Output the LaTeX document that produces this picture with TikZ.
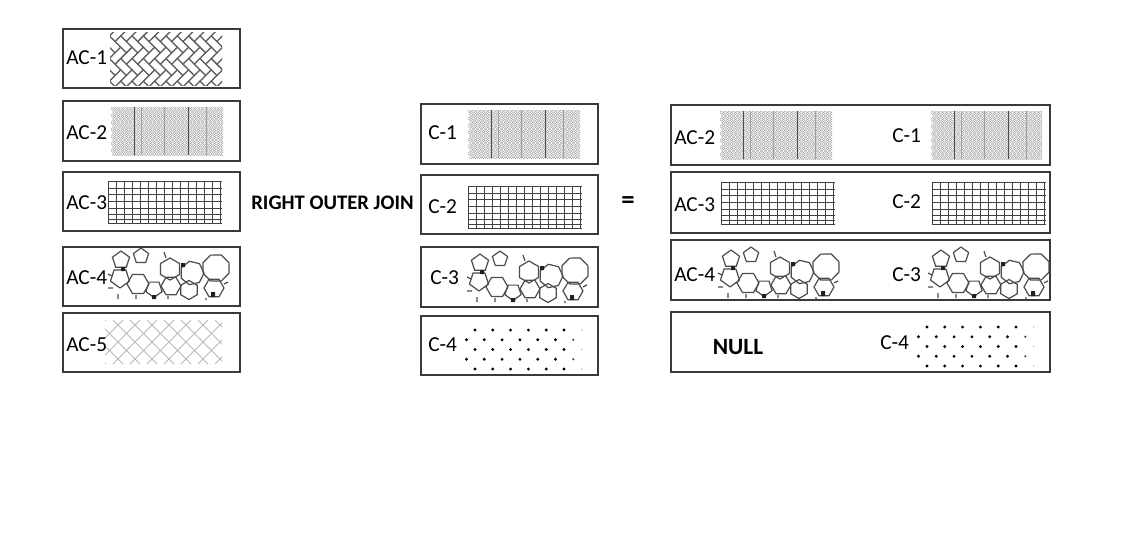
\documentclass[tikz,border=0pt]{standalone}
\usepackage{fontspec}
\setmainfont{Carlito}
\definecolor{boxc}{HTML}{3A3A3A}
\definecolor{patc}{HTML}{606060}
\tikzset{
  tbox/.style 2 args={draw=boxc, line width=1.1pt, inner sep=0pt, outer sep=0pt, anchor=north west, minimum width=#1*0.75pt, minimum height=#2*0.75pt},
  lab/.style={anchor=west, inner sep=0pt, font=\fontsize{16}{18}\selectfont, text=black},
  boldlab/.style={inner sep=0pt, font=\bfseries\fontsize{15.5}{18}\selectfont, text=black},
  hb/.style={draw=patc, line width=0.8pt},
  circ/.style={draw=gray!65, line width=0.45pt},
  gridl/.style={draw=gray!50!black, line width=0.55pt},
  foaml/.style={draw=gray!60!black, line width=0.9pt},
  crossl/.style={draw=gray!55, line width=0.7pt}
}
\newcommand{\PatHerring}[4]{%
 \begin{scope}[shift={(#1,#2)}]
  \clip (0,0) rectangle (#3,#4);
  \begin{scope}[shift={(#3/2,#4/2)}, rotate=45, scale=8]
   \foreach \k in {-10,...,10}{\foreach \m in {-5,...,5}{
     \draw[hb] ({\k+2*\m},{\k-2*\m}) rectangle ++(2,1);
     \draw[hb] ({\k+2*\m+2},{\k-2*\m-1}) rectangle ++(1,2);
   }}
  \end{scope}
 \end{scope}}
\newcommand{\PatCircles}[4]{%
 \begin{scope}[shift={(#1,#2)}]
  \clip (0,0) rectangle (#3,#4);
  \draw[circ] \foreach \i in {0,...,28}{\foreach \j in {0,...,14}{
    ({\i*4+2*mod(\j,2)+1.5},{\j*3.5+1.5}) circle[radius=1.7]}};
  \draw[gray!60!black, line width=0.7pt] (23,0) -- (23,#4) (77,0) -- (77,#4);
  \draw[gray!75, line width=0.5pt] (30,0) -- (30,#4) (53,0) -- (53,#4) (95,0) -- (95,#4);
 \end{scope}}
\newcommand{\PatGrid}[2]{%
 \begin{scope}[shift={(#1,#2)}]
  \draw[gridl] \foreach \x in {0,8,...,112}{(\x,0) -- (\x,42)};
  \draw[gridl] \foreach \y in {0,7,13,20,27,33,38,42}{(0,\y) -- (114,\y)};
 \end{scope}}
\newcommand{\PatFoam}[2]{%
 \begin{scope}[shift={(#1,#2)}]
  \foreach \cx/\cy/\r/\n/\ro in {13/8/9/5/-90, 12/26/10/5/90, 30/32/11/6/0, 46/37/8.5/5/90, 33/4/8/5/-90, 62/17/11/6/30, 63/34/10/6/0, 84/21/12/7/0, 81/38/9.5/6/30, 108/16/14/8/22, 106/36/10/6/0}{
    \draw[foaml] ({\cx+\r*cos(\ro)},{\cy+\r*sin(\ro)}) \foreach \t in {1,...,\n}{ -- ({\cx+\r*cos(\ro+\t*360/\n)},{\cy+\r*sin(\ro+\t*360/\n)})};
  }
  \fill[gray!25!black] (13,15) rectangle (17,19) (73,11) rectangle (77,15) (103,40) rectangle (107,45) (44,43) rectangle (48,47);
  \draw[foaml] (0,22) -- (4,24) (0,36) -- (5,36) (10,42) -- (10,47) (28,43) -- (28,47) (60,44) -- (60,47) (98,46) -- (98,48) (120,30) -- (116,32) (56,0) -- (58,6);
 \end{scope}}
\newcommand{\PatCross}[4]{%
 \begin{scope}[shift={(#1,#2)}]
  \clip (0,0) rectangle (#3,#4);
  \draw[crossl] \foreach \s in {-60,-43,...,130}{(\s,0) -- ++(#4,#4) (\s,#4) -- ++(#4,-#4)};
 \end{scope}}
\newcommand{\PatDots}[2]{%
 \begin{scope}[shift={(#1,#2)}]
  \foreach \j/\off in {0/0, 9.75/-8.5, 19.5/0, 29.25/-8.5, 39/0}{
   \foreach \i in {0,...,5}{\fill[black] ({\off+\i*17.8},\j) circle[radius=1.6];}
  }
  \foreach \j in {0,19.5,39}{\fill[gray!50] ({6*17.8},\j) circle[radius=0.9];}
  \foreach \j in {9.75,29.25}{\fill[gray!60!black] ({6*17.8-8.5},\j) circle[radius=1.2];}
 \end{scope}}
\begin{document}
\begin{tikzpicture}[x=0.75pt,y=-0.75pt]
\fill[white] (0,0) rectangle (1140,551);
\useasboundingbox (0,0) rectangle (1140,551);

% left column
\node[tbox={177}{59}] (ac1) at (63,29) {};
\node[tbox={177}{60}] (ac2) at (63,101) {};
\node[tbox={177}{59}] (ac3) at (63,172) {};
\node[tbox={177}{59}] (ac4) at (63,247) {};
\node[tbox={177}{59}] (ac5) at (63,313) {};
\PatHerring{110}{32}{112}{53}
\PatCircles{111}{107}{112}{48}
\PatGrid{108}{181}
\PatFoam{108}{252}
\PatCross{105}{320}{117}{44}
\node[lab] (ac1t) at (66,58) {AC-1};
\node[lab] (ac2t) at (66,133) {AC-2};
\node[lab] (ac3t) at (66,203) {AC-3};
\node[lab] (ac4t) at (66,278) {AC-4};
\node[lab] (ac5t) at (66,345) {AC-5};

% operator
\node[boldlab] (join) at (332.5,203) {RIGHT OUTER JOIN};
\node[boldlab, font=\bfseries\fontsize{20}{22}\selectfont] (eq) at (628,203) {=};

% middle column
\node[tbox={177}{60}] (c1) at (421,104) {};
\node[tbox={177}{59}] (c2) at (421,175) {};
\node[tbox={177}{60}] (c3) at (421,247) {};
\node[tbox={177}{59}] (c4) at (421,316) {};
\PatCircles{468}{110}{112}{48}
\PatGrid{468}{186}
\PatFoam{467}{255}
\PatDots{475}{330}
\node[lab] (c1t) at (428,133) {C-1};
\node[lab] (c2t) at (428,207) {C-2};
\node[lab] (c3t) at (430,278) {C-3};
\node[lab] (c4t) at (428,345) {C-4};

% result column
\node[tbox={379}{60}] (r1) at (671,105) {};
\node[tbox={379}{61}] (r2) at (671,172) {};
\node[tbox={379}{60}] (r3) at (671,240) {};
\node[tbox={379}{60}] (r4) at (671,312) {};
\PatCircles{720}{111}{112}{48}
\PatCircles{931}{111}{111}{48}
\PatGrid{721}{182}
\PatGrid{932}{182}
\PatFoam{718}{251}
\PatFoam{928}{251}
\PatDots{927}{327}
\node[lab] (r1a) at (674,138) {AC-2};
\node[lab] (r1c) at (892,136) {C-1};
\node[lab] (r2a) at (674,205) {AC-3};
\node[lab] (r2c) at (892,202) {C-2};
\node[lab] (r3a) at (674,275) {AC-4};
\node[lab] (r3c) at (892,275) {C-3};
\node[boldlab, font=\bfseries\fontsize{17.5}{20}\selectfont] (null) at (738,347) {NULL};
\node[lab] (r4c) at (880,343) {C-4};
\end{tikzpicture}
\end{document}
